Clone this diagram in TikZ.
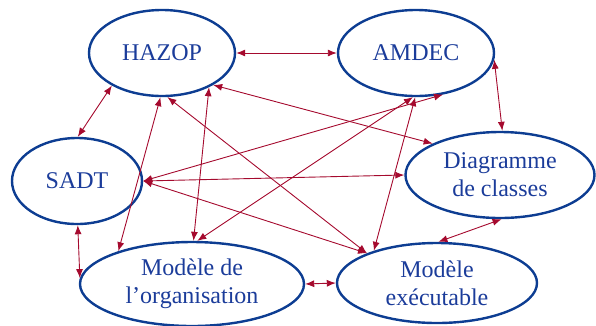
\documentclass[tikz,border=0pt]{standalone}
\usepackage{fontspec}
\setmainfont{Liberation Serif}
\usetikzlibrary{shapes.geometric,arrows.meta}
\definecolor{ellblue}{HTML}{0D3D92}
\definecolor{txtblue}{HTML}{1B3C9A}
\definecolor{linkred}{HTML}{A50A2E}
\tikzset{
  bubble/.style={ellipse, draw=ellblue, line width=2.4pt, inner sep=0pt,
    text=txtblue, align=center, font=\fontsize{24}{28}\selectfont},
  link/.style={draw=linkred, line width=0.9pt,
    {Latex[length=9pt,width=7pt]}-{Latex[length=9pt,width=7pt]}}
}
\begin{document}
\begin{tikzpicture}[x=1pt,y=-1pt]
\useasboundingbox (0,0) rectangle (596,325);
\node[bubble, minimum width=146pt, minimum height=86pt] (hazop) at (162,53) {HAZOP};
\node[bubble, minimum width=156pt, minimum height=86pt] (amdec) at (416,53) {AMDEC};
\node[bubble, minimum width=130pt, minimum height=86pt] (sadt) at (77,181) {SADT};
\node[bubble, minimum width=189pt, minimum height=86pt] (diag) at (500,175) {Diagramme\\de classes};
\node[bubble, minimum width=224pt, minimum height=84pt] (org) at (192,284) {Modèle de\\l’organisation};
\node[bubble, minimum width=200pt, minimum height=80pt] (exec) at (437,283) {Modèle\\exécutable};

\draw[link] (hazop.east) -- (amdec.west);
\draw[link] (hazop.-147.6) -- (sadt.89);
\draw[link] (hazop.-92.4) -- (org.156);
\draw[link] (hazop.-36) -- (org.88);
\draw[link] (hazop.-32) -- (diag.155);
\draw[link] (hazop.-83.7) -- (exec.157);
\draw[link] (amdec.-5) -- (diag.87);
\draw[link] (amdec.-57) -- (sadt.east);
\draw[link] (amdec.-94) -- (org.83);
\draw[link] (amdec.-91) -- (exec.153.8);
\draw[link] (sadt.east) -- (diag.west);
\draw[link] (sadt.east) -- (exec.157);
\draw[link] (sadt.-89) -- (org.177);
\draw[link] (org.east) -- (exec.west);
\draw[link] (diag.-88) -- (exec.88);
\end{tikzpicture}
\end{document}
